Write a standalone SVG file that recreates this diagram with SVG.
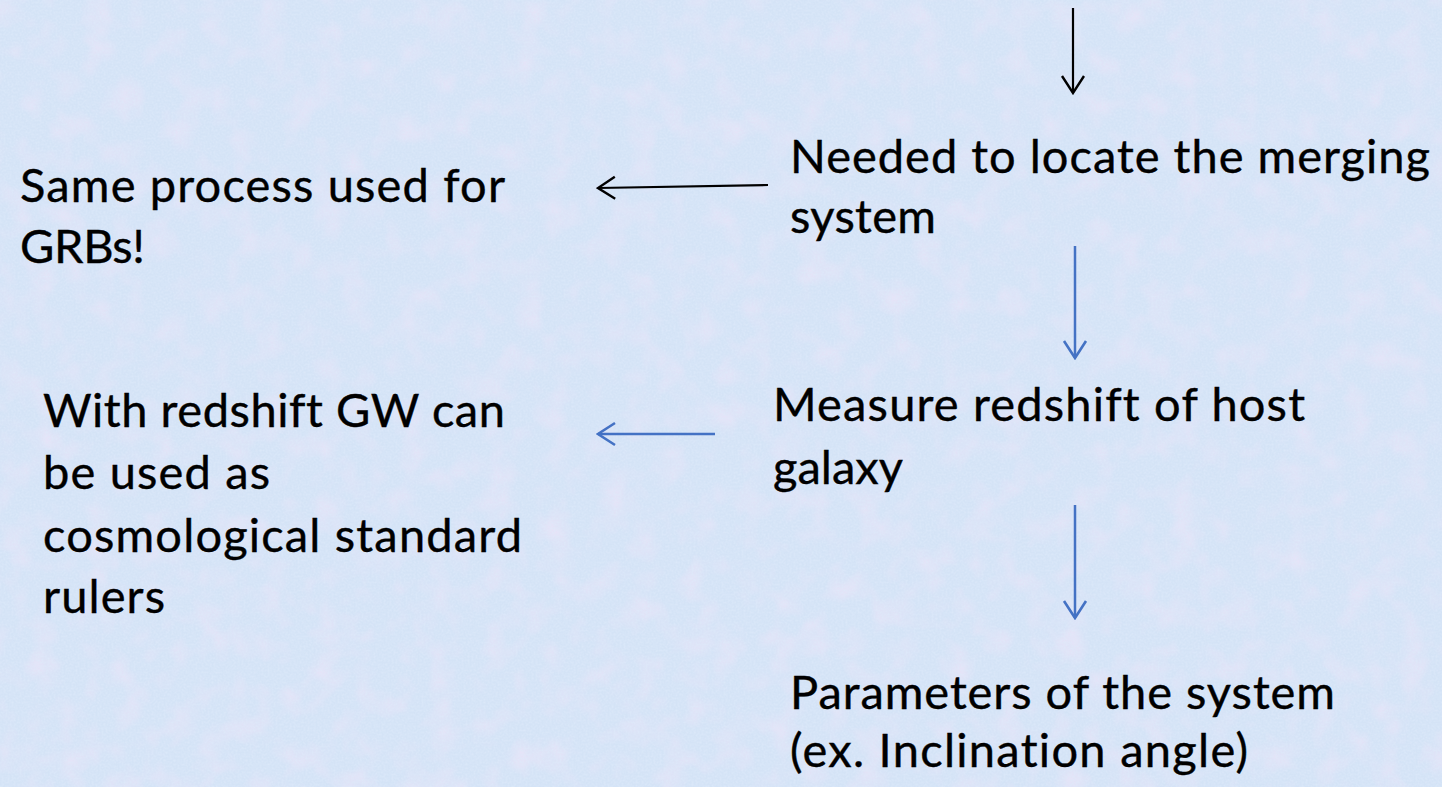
<svg xmlns="http://www.w3.org/2000/svg" width="1442" height="787" viewBox="0 0 1442 787">
<style>
.t{font-family:Lato,"Open Sans","Liberation Sans",sans-serif;font-size:47px;fill:#000;font-variant-ligatures:none;stroke:#000;stroke-width:0.4}
.blk{stroke:#000;stroke-width:2.2;fill:none}
.blu{stroke:#4472c4;stroke-width:2.5;fill:none}
</style>
<defs>
<marker id="ab" markerUnits="userSpaceOnUse" viewBox="-20 -13 22 26" markerWidth="22" markerHeight="26" refX="0" refY="0" orient="auto">
<path d="M-17,-11 L0,0 L-17,11" fill="none" stroke="#000" stroke-width="2.4"/>
</marker>
<marker id="au" markerUnits="userSpaceOnUse" viewBox="-20 -13 22 26" markerWidth="22" markerHeight="26" refX="0" refY="0" orient="auto">
<path d="M-17,-11 L0,0 L-17,11" fill="none" stroke="#4472c4" stroke-width="2.6"/>
</marker>
<filter id="tex" x="0" y="0" width="100%" height="100%">
<feTurbulence type="fractalNoise" baseFrequency="0.035" numOctaves="3" seed="4" result="n"/>
<feColorMatrix in="n" type="matrix" values="0 0 0 0 0.92  0 0 0 0 0.78  0 0 0 0 0.95  1.8 0 0 0 -0.8" result="pink"/>
<feTurbulence type="fractalNoise" baseFrequency="0.5" numOctaves="2" seed="9" result="f"/>
<feColorMatrix in="f" type="matrix" values="0 0 0 0 0.78  0 0 0 0 0.86  0 0 0 0 0.98  0 0 1.4 0 -0.5" result="fine"/>
<feMerge><feMergeNode in="pink"/><feMergeNode in="fine"/></feMerge>
</filter>
</defs>
<rect width="1442" height="787" fill="#d4e3f6"/>
<rect width="1442" height="787" filter="url(#tex)" opacity="0.6"/>
<g id="connectors">
<line class="blk" x1="1073" y1="8" x2="1073" y2="93" marker-end="url(#ab)"/>
<line class="blk" x1="768" y1="185" x2="598" y2="188" marker-end="url(#ab)"/>
<line class="blu" x1="1075" y1="246" x2="1075" y2="358" marker-end="url(#au)"/>
<line class="blu" x1="715" y1="434" x2="598" y2="434" marker-end="url(#au)"/>
<line class="blu" x1="1075" y1="505" x2="1075" y2="618" marker-end="url(#au)"/>
</g>
<g id="node-locate">
<text class="t" x="790" y="173" textLength="640">Needed to locate the merging</text>
<text class="t" x="790" y="233" textLength="146">system</text>
</g>
<g id="node-grb">
<text class="t" x="20" y="202" textLength="485">Same process used for</text>
<text class="t" x="20" y="263" textLength="125">GRBs!</text>
</g>
<g id="node-redshift">
<text class="t" x="773" y="421" textLength="532">Measure redshift of host</text>
<text class="t" x="773" y="484" textLength="130">galaxy</text>
</g>
<g id="node-ruler">
<text class="t" x="43" y="427" textLength="462">With redshift GW can</text>
<text class="t" x="43" y="489" textLength="227">be used as</text>
<text class="t" x="43" y="552" textLength="479">cosmological standard</text>
<text class="t" x="43" y="613" textLength="122">rulers</text>
</g>
<g id="node-params">
<text class="t" x="790" y="709" textLength="545">Parameters of the system</text>
<text class="t" x="790" y="767" textLength="458">(ex. Inclination angle)</text>
</g>
</svg>
